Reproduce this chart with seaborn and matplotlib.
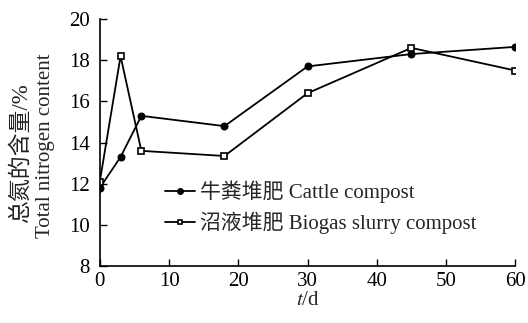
import matplotlib
matplotlib.use("Agg")
import matplotlib.pyplot as plt
import seaborn as sns
import pandas as pd

# Sampling days and total nitrogen content (%)
days = [0, 3, 6, 18, 30, 45, 60]
cattle = [11.8, 13.3, 15.3, 14.8, 17.7, 18.3, 18.65]
biogas = [12.1, 18.2, 13.6, 13.35, 16.4, 18.6, 17.5]
labels = ["牛粪堆肥 Cattle compost", "沼液堆肥 Biogas slurry compost"]
xticks = [0, 10, 20, 30, 40, 50, 60]
yticks = [8, 10, 12, 14, 16, 18, 20]
ylabel_cn = "总氮的含量/%"
ylabel_en = "Total nitrogen content"

sns.set_style("ticks")
plt.rcParams["font.family"] = ["Liberation Serif", "Noto Sans CJK SC"]
plt.rcParams["mathtext.fontset"] = "stix"
FS = 15

df_c = pd.DataFrame({"day": days, "N": cattle})
df_b = pd.DataFrame({"day": days, "N": biogas})

fig = plt.figure(figsize=(5.28, 3.23), dpi=100)
ax = fig.add_axes([0.189, 0.176, 0.787, 0.765])

sns.lineplot(data=df_c, x="day", y="N", ax=ax, color="black", lw=1.3,
             marker="o", markersize=5, markerfacecolor="black",
             markeredgecolor="black", label=labels[0])
sns.lineplot(data=df_b, x="day", y="N", ax=ax, color="black", lw=1.3,
             marker="s", markersize=4.2, markerfacecolor="white",
             markeredgecolor="black", markeredgewidth=1.2, label=labels[1])

ax.set_xlim(0, 60)
ax.set_ylim(8, 20)
ax.set_xticks(xticks)
ax.set_yticks(yticks)
ax.tick_params(direction="in", length=5, width=1, colors="black",
               labelsize=FS)
ax.tick_params(axis="y", pad=7)
ax.tick_params(axis="x", pad=4)
for s in ["left", "bottom"]:
    ax.spines[s].set_linewidth(1.2)
    ax.spines[s].set_color("black")
sns.despine(ax=ax)

ax.set_xlabel(r"$t$/d", fontsize=FS, labelpad=0)
ax.set_ylabel("")
# Two-line vertical axis title: Chinese line outside, English line inside
fig.text(21 / 528, 1 - 153 / 323, ylabel_cn, rotation=90, fontsize=16.5,
         fontweight="light", ha="center", va="center", color="#222222")
fig.text(46 / 528, 1 - 146 / 323, ylabel_en, rotation=90, fontsize=FS,
         ha="center", va="center")

ax.legend(loc="lower left", bbox_to_anchor=(0.157, 0.13), frameon=False,
          handlelength=1.45, handletextpad=0.25, labelspacing=0.4,
          fontsize=FS, borderaxespad=0, borderpad=0, markerscale=0.85)

fig.savefig("out.png", dpi=100)
